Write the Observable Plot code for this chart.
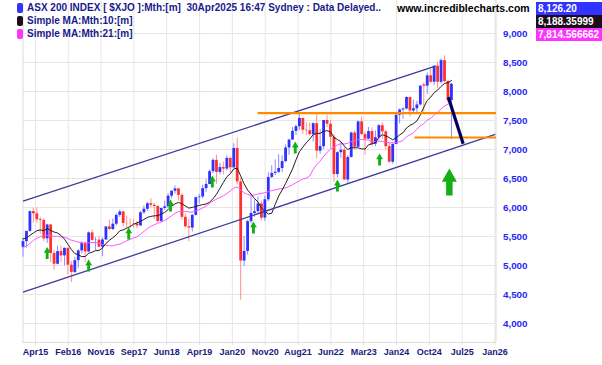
<!DOCTYPE html>
<html><head><meta charset="utf-8">
<script src="https://cdn.jsdelivr.net/npm/d3@7"></script>
<script src="https://cdn.jsdelivr.net/npm/@observablehq/plot@0.6"></script>
<style>
body{margin:0;background:#fff;font-family:"Liberation Sans",Arial,sans-serif}
#wrap{position:relative;width:602px;height:365px;overflow:hidden}
#wrap svg{position:absolute;left:0;top:0}
#wrap svg text{font-weight:bold !important}
.lg{position:absolute;left:27px;font-size:10px;font-weight:bold;color:#1a1a8c;white-space:pre;line-height:12px}
.sw{position:absolute;left:17px;width:6px;height:10px;border-radius:2px}
.val{position:absolute;right:0;width:66px;height:13px;color:#fff;font-size:10px;font-weight:bold;line-height:13px;padding-left:2px;box-sizing:border-box;white-space:nowrap;overflow:hidden}
.site{position:absolute;left:397px;top:2px;font-size:10.5px;font-weight:bold;color:#000;line-height:12px}
</style></head>
<body>
<div id="wrap"></div>
<script>
// Monthly bars, first bar = Dec 2014
const opens = [5313,5411,5588,5929,5891,5790,5777,5459,5699,5207,5021,5239,5166,5296,5005,4880,5083,5252,5378,5233,5562,5433,5436,5317,5440,5665,5620,5712,5864,5924,5724,5721,5720,5715,5682,5909,5970,6065,6037,6016,5759,5983,6011,6195,6280,6320,6208,5830,5667,5646,5864,6169,6181,6325,6397,6618,6813,6604,6688,6663,6846,6684,7017,6441,5077,5242,5756,5898,5928,6061,5816,6133,6518,6587,6607,6673,6791,7025,7162,7313,7393,7535,7332,7324,7256,7445,6971,7049,7500,7435,7211,6568,6945,6987,6474,6863,7284,7039,7476,7258,7178,7309,7091,7203,7410,7305,7049,6781,7087,7591,7681,7699,7897,7664,7702,7768,8114,8092,8270,8160,8436,8159,8532,8172,7843];
const highs = [5470,5588,5940,5985,5996,5830,5800,5710,5710,5260,5330,5340,5300,5300,5070,5140,5270,5410,5410,5580,5610,5480,5500,5480,5670,5780,5800,5890,5956,5930,5850,5800,5790,5760,5930,6030,6085,6150,6070,6030,5990,6110,6235,6290,6370,6330,6240,5890,5800,5880,6180,6230,6380,6480,6650,6840,6900,6760,6780,6890,6860,7100,7197,6500,5500,5780,6200,6130,6180,6110,6200,6600,6720,6820,6910,6890,7080,7180,7380,7420,7632,7540,7470,7460,7460,7630,7340,7500,7593,7500,7250,6960,7120,7050,6890,7300,7320,7490,7560,7300,7380,7370,7320,7430,7460,7330,7120,7100,7600,7700,7720,7910,7900,7850,7830,8100,8150,8320,8380,8440,8500,8560,8615,8200,8140];
const lows = [5144,5300,5570,5730,5735,5540,5410,5380,5050,4918,5010,5050,4990,4840,4706,4860,4950,5200,5050,5220,5420,5250,5310,5150,5430,5600,5600,5680,5830,5660,5640,5640,5640,5630,5680,5880,5930,5990,5790,5730,5740,5950,5980,6150,6230,6110,5780,5650,5410,5580,5850,6060,6150,6260,6390,6580,6400,6560,6560,6630,6590,6670,6390,4402,4980,5180,5720,5830,5900,5770,5760,6100,6500,6550,6580,6600,6770,6900,7160,7240,7330,7260,7240,7230,7130,6838,6920,7000,7380,7010,6433,6510,6850,6470,6400,6850,6990,7030,7240,6900,7170,7060,7050,7150,7170,6990,6760,6750,7080,7440,7520,7680,7560,7610,7620,7750,7650,7950,8140,8100,8050,8130,8150,7800,7169];
const closes = [5411,5588,5929,5891,5790,5777,5459,5699,5207,5021,5239,5166,5296,5005,4880,5083,5252,5378,5233,5562,5433,5436,5317,5440,5665,5620,5712,5864,5924,5724,5721,5720,5715,5682,5909,5970,6065,6037,6016,5759,5983,6011,6195,6280,6320,6208,5830,5667,5646,5864,6169,6181,6325,6397,6618,6813,6604,6688,6663,6846,6684,7017,6441,5077,5242,5756,5898,5928,6061,5816,6133,6518,6587,6607,6673,6791,7025,7162,7313,7393,7535,7332,7324,7256,7445,6971,7049,7500,7435,7211,6568,6945,6987,6474,6863,7284,7039,7476,7258,7178,7309,7091,7203,7410,7305,7049,6781,7087,7591,7681,7699,7897,7664,7702,7768,8092,8092,8270,8160,8436,8159,8532,8172,7843,8126];
// closes Apr 2013 - Nov 2014 (moving-average warm-up)
const histCloses = [5191,4926,4803,5052,5135,5218,5425,5320,5352,5190,5404,5395,5489,5492,5396,5633,5625,5293,5527,5313];
const tickLabels = ["Apr15","Feb16","Nov16","Sep17","Jun18","Apr19","Jan20","Nov20","Aug21","Jun22","Mar23","Jan24","Oct24","Jul25","Jan26"];
const yTicks = [4000,4500,5000,5500,6000,6500,7000,7500,8000,8500,9000];
// drawn annotations (bar index, price)
const channels = [{i1:0, p1:6109, i2:119.4, p2:8438}, {i1:0, p1:4540, i2:136.7, p2:7259}];
const levels = [{from:67.9, to:136.9, price:7626}, {from:113.3, to:136.9, price:7207}];
const projection = [{i1:123.1, p1:7902, i2:127.4, p2:7098}];
const arrows = [[7.0,5216],[19,5000],[30.6,5552],[42.7,6034],[54.8,6448],[66.7,5655],[78.8,7034],[91,6379],[103.2,6828]];
const bigArrow = [[123.4,6440]];
const lastValues = ["8,126.20","8,188.35999","7,814.566662"];

const data = closes.map((c, i) => ({i, o: opens[i], h: highs[i], l: lows[i], c, up: c >= opens[i]}));
const all = histCloses.concat(closes);
const ma = n => closes.map((_, i) => { const k = i + histCloses.length; return {i, v: d3.mean(all.slice(k - n + 1, k + 1))}; });
const ma10 = ma(10), ma21 = ma(21);

const tickStart = 3.6, tickStep = 9.5;
const tickPos = tickLabels.map((_, k) => tickStart + tickStep * k);
const labOf = new Map(tickPos.map((p, k) => [p, tickLabels[k]]));

const upArrow = { draw(ctx, size) {
  const r = Math.sqrt(size / Math.PI), hw = 0.56 * r, sw = 0.24 * r, hb = -0.02 * r;
  ctx.moveTo(0, -r); ctx.lineTo(hw, hb); ctx.lineTo(sw, hb); ctx.lineTo(sw, r);
  ctx.lineTo(-sw, r); ctx.lineTo(-sw, hb); ctx.lineTo(-hw, hb); ctx.closePath();
}};

const XMAX = 136.9, YMIN = 3672, YMAX = 9569;
const chart = Plot.plot({
  width: 602, height: 365,
  marginTop: 0, marginBottom: 23, marginLeft: 22.5, marginRight: 106.5,
  style: {fontFamily: "Liberation Sans, Arial, sans-serif", background: "#fff"},
  x: {domain: [0, XMAX], axis: null},
  y: {domain: [YMIN, YMAX], axis: null},
  color: {type: "identity"},
  marks: [
    Plot.ruleX(tickPos, {stroke: "#e6e6e6"}),
    Plot.ruleY(yTicks, {stroke: "#e6e6e6"}),
    Plot.ruleX([0, XMAX], {stroke: "#dcdcdc"}),
    Plot.ruleY([YMIN], {stroke: "#dcdcdc"}),
    Plot.axisX(tickPos, {tickFormat: d => labOf.get(d), tickSize: 3, tickPadding: 3, fontSize: 9, fontWeight: "bold", stroke: "#e0e0e0", fill: "#1a1a7a"}),
    Plot.axisY(yTicks, {anchor: "right", tickSize: 0, tickPadding: 7, fontSize: 9.8, fontWeight: "bold", fill: "#2828f4", textAnchor: "start"}),
    Plot.ruleX(data, {x: "i", y1: "l", y2: "h", stroke: d => d.up ? "#8c8cff" : "#ff9090", strokeWidth: 1}),
    Plot.ruleX(data, {x: "i", y1: "o", y2: "c", stroke: d => d.up ? "#3030ff" : "#ff3030", strokeWidth: 2.8}),
    Plot.line(ma21, {x: "i", y: "v", stroke: "#ff55ff", strokeWidth: 1}),
    Plot.line(ma10, {x: "i", y: "v", stroke: "#2a1c1c", strokeWidth: 1}),
    Plot.link(channels, {x1: "i1", y1: "p1", x2: "i2", y2: "p2", stroke: "#3c3c9c", strokeWidth: 1.3}),
    Plot.link(levels, {x1: "from", x2: "to", y1: "price", y2: "price", stroke: "#ff8a00", strokeWidth: 2.2}),
    Plot.link(projection, {x1: "i1", y1: "p1", x2: "i2", y2: "p2", stroke: "#00005a", strokeWidth: 3.2}),
    Plot.dot(arrows, {x: d => d[0], y: d => d[1], symbol: upArrow, r: 6, fill: "#12b012", stroke: "none"}),
    Plot.dot(bigArrow, {x: d => d[0], y: d => d[1], symbol: upArrow, r: 13.5, fill: "#12b012", stroke: "none"})
  ]
});
const wrap = document.getElementById("wrap");
wrap.appendChild(chart);

const legend = [
  {text: "ASX 200 INDEX [ $XJO ]:Mth:[m]  30Apr2025 16:47 Sydney : Data Delayed..", color: "#3333ff"},
  {text: "Simple MA:Mth:10:[m]", color: "#1c0c1c"},
  {text: "Simple MA:Mth:21:[m]", color: "#ff33ff"}
];
legend.forEach((l, k) => {
  const sw = document.createElement("div");
  sw.className = "sw"; sw.style.top = (3 + 13 * k) + "px"; sw.style.background = l.color;
  wrap.appendChild(sw);
  const t = document.createElement("div");
  t.className = "lg"; t.style.top = (2 + 13 * k) + "px"; t.textContent = l.text;
  wrap.appendChild(t);
  const v = document.createElement("div");
  v.className = "val"; v.style.top = (2 + 13 * k) + "px"; v.style.background = l.color; v.textContent = lastValues[k];
  wrap.appendChild(v);
});
const site = document.createElement("div");
site.className = "site"; site.textContent = "www.incrediblecharts.com";
wrap.appendChild(site);
</script>
</body></html>
